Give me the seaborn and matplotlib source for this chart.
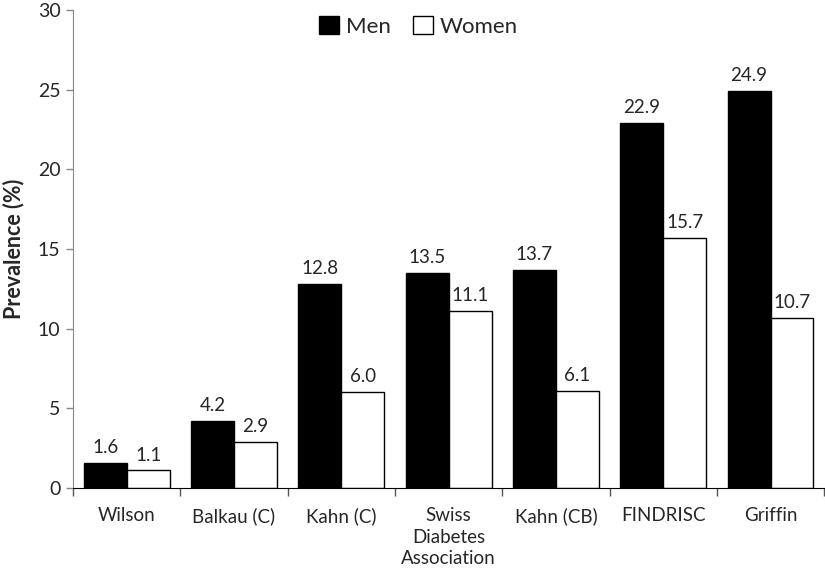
import matplotlib
matplotlib.use("Agg")
import matplotlib.pyplot as plt
import numpy as np
import pandas as pd
import seaborn as sns
from matplotlib.ticker import FixedLocator

# Data
scores = ["Wilson", "Balkau (C)", "Kahn (C)", "Swiss\nDiabetes\nAssociation",
          "Kahn (CB)", "FINDRISC", "Griffin"]
men = [1.6, 4.2, 12.8, 13.5, 13.7, 22.9, 24.9]
women = [1.1, 2.9, 6.0, 11.1, 6.1, 15.7, 10.7]
yticks = [0, 5, 10, 15, 20, 25, 30]

df = pd.DataFrame({
    "score": scores * 2,
    "value": men + women,
    "sex": ["Men"] * len(scores) + ["Women"] * len(scores),
})

sns.set_style("white")
plt.rcParams["font.family"] = ["Lato", "DejaVu Sans"]

fig = plt.figure(figsize=(8.25, 5.75), dpi=100)
ax = fig.add_axes([0.0885, 0.1513, 0.9105, 0.8313])

sns.barplot(data=df, x="score", y="value", hue="sex", order=scores,
            palette={"Men": "black", "Women": "white"},
            edgecolor="black", linewidth=1, width=0.8, ax=ax)

# value labels
for cont in ax.containers:
    ax.bar_label(cont, fmt="%.1f", padding=5, fontsize=13.5)

ax.set_ylim(0, 30)
ax.set_xlim(-0.5, len(scores) - 0.5)
ax.set_yticks(yticks)
ax.tick_params(axis="y", labelsize=14, length=5, width=1, color="#888888",
               direction="out", left=True, pad=4)
ax.tick_params(axis="x", which="major", length=0, labelsize=13.5, pad=14)
for lbl in ax.get_xticklabels():
    lbl.set_linespacing(1.3)
ax.xaxis.set_minor_locator(FixedLocator(np.arange(-0.5, len(scores), 1.0)))
ax.tick_params(axis="x", which="minor", length=6, width=1, color="#555555",
               direction="out", bottom=True)

ax.set_xlabel("")
ax.set_ylabel("Prevalence (%)", fontsize=15.5, fontweight="bold", labelpad=10)

sns.despine(ax=ax)
ax.spines["left"].set_color("#888888")
ax.spines["bottom"].set_color("black")

ax.legend(loc="upper center", bbox_to_anchor=(0.46, 1.03), ncol=2, frameon=False,
          fontsize=16, handlelength=0.9, handleheight=0.9, handletextpad=0.3,
          columnspacing=1.0)

fig.savefig("out.png", dpi=100)
